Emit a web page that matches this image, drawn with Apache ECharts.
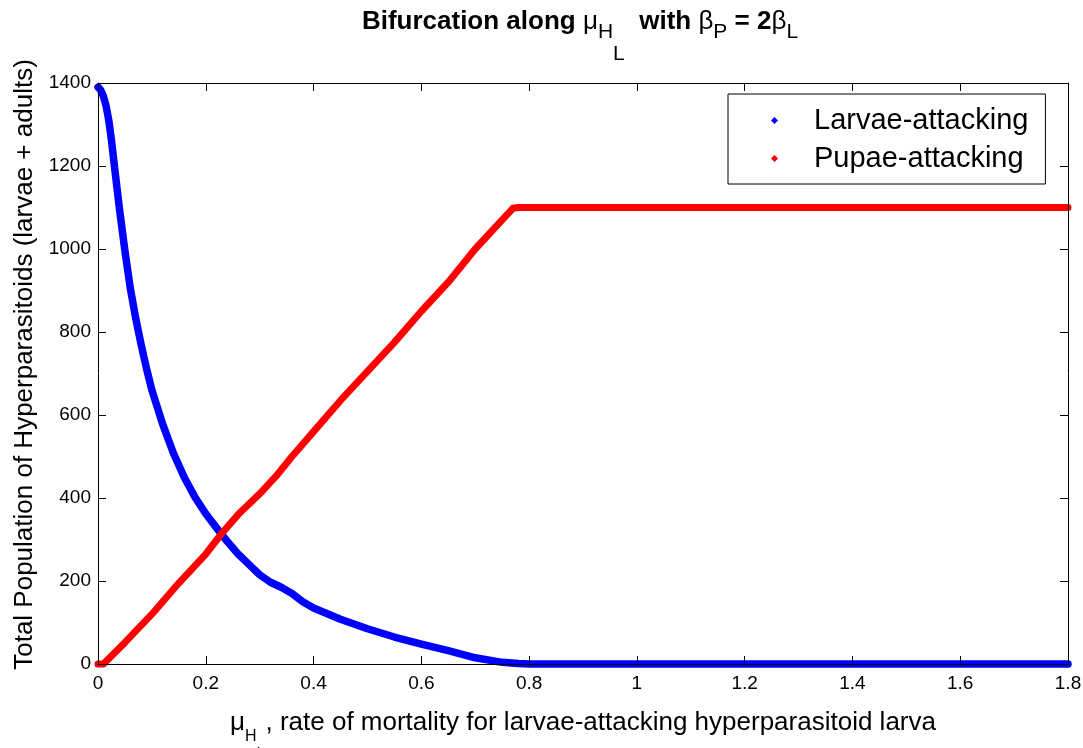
<!DOCTYPE html>
<html>
<head>
<meta charset="utf-8">
<title>Bifurcation along mu_HL</title>
<script src="https://cdn.jsdelivr.net/npm/echarts@6/dist/echarts.min.js"></script>
<style>
  html, body { margin: 0; padding: 0; background: #fff; }
  #chart { width: 1083px; height: 748px; }
</style>
</head>
<body>
<div id="chart"></div>
<script>
// mortality rate (x) and population (y)
var larvaeX = [0, 0.005, 0.01, 0.015, 0.02, 0.025, 0.03, 0.04, 0.05, 0.06, 0.07, 0.08, 0.09, 0.1, 0.12, 0.14, 0.16, 0.18, 0.2, 0.22, 0.24, 0.26, 0.28, 0.3, 0.32, 0.34, 0.36, 0.38, 0.4, 0.45, 0.5, 0.55, 0.6, 0.65, 0.7, 0.75, 0.78, 0.8, 0.95, 1.8];
var larvaeY = [1390, 1383, 1368, 1345, 1310, 1262, 1205, 1095, 995, 905, 833, 770, 712, 660, 578, 508, 450, 402, 362, 328, 295, 265, 240, 215, 197, 185, 170, 150, 135, 108, 85, 65, 48, 32, 15, 4, 1, 0, 0, 0];

var pupaeX = [0, 0.01, 0.05, 0.1, 0.15, 0.2, 0.23, 0.26, 0.3, 0.33, 0.36, 0.4, 0.45, 0.5, 0.55, 0.6, 0.65, 0.7, 0.75, 0.77, 0.78, 1.8];
var pupaeY = [0, 0, 52, 120, 195, 265, 315, 360, 410, 452, 500, 560, 635, 705, 775, 850, 920, 1000, 1070, 1098, 1100, 1100];

var seriesNames = ['Larvae-attacking', 'Pupae-attacking'];
var seriesColors = ['#0000ff', '#ff0000'];

var xTicks = { min: 0, max: 1.8, interval: 0.2 };
var yTicks = { min: 0, max: 1400, interval: 200 };

var FONT = "'Liberation Sans', Arial, sans-serif";

function pairs(xs, ys) {
  var out = [];
  for (var i = 0; i < xs.length; i++) out.push([xs[i], ys[i]]);
  return out;
}

var chart = echarts.init(document.getElementById('chart'), null, { renderer: 'canvas' });

var frameAxis = {
  axisLine: { show: true, onZero: false, lineStyle: { color: '#000', width: 1 } },
  axisTick: { show: true, inside: true, length: 8, lineStyle: { color: '#000' } },
  splitLine: { show: false },
  z: 5
};

var option = {
  backgroundColor: '#fff',
  animation: false,
  title: {
    text: '{b|Bifurcation along }{n|μ}{s1|H}{s2|L}{b|  with }{n|β}{s1|P}{b| = 2}{n|β}{s1|L}',
    left: 580,
    top: 9,
    padding: 0,
    textAlign: 'center',
    textStyle: {
      rich: {
        b: { fontFamily: FONT, fontSize: 26, fontWeight: 'bold', color: '#000', verticalAlign: 'top' },
        n: { fontFamily: FONT, fontSize: 26, fontWeight: 'normal', color: '#000', verticalAlign: 'top' },
        s1: { fontFamily: FONT, fontSize: 21, fontWeight: 'normal', color: '#000', verticalAlign: 'top', padding: [13, 0, 0, 0] },
        s2: { fontFamily: FONT, fontSize: 21, fontWeight: 'normal', color: '#000', verticalAlign: 'top', padding: [35, 0, 0, 0] }
      }
    }
  },
  legend: {
    orient: 'vertical',
    left: 728,
    top: 94,
    padding: [12, 17, 11, 43],
    itemGap: 9,
    itemWidth: 7,
    itemHeight: 7,
    icon: 'diamond',
    borderColor: '#000',
    borderWidth: 1,
    backgroundColor: '#fff',
    formatter: function (name) { return '{t|' + name + '}'; },
    textStyle: {
      rich: {
        t: { fontFamily: FONT, fontSize: 29, color: '#000', padding: [0, 0, 0, 31] }
      }
    },
    data: seriesNames
  },
  grid: {
    left: 98,
    right: 15,
    top: 83,
    bottom: 84,
    containLabel: false,
    outerBoundsMode: 'none'
  },
  xAxis: [
    Object.assign({}, frameAxis, {
      type: 'value',
      position: 'bottom',
      min: xTicks.min, max: xTicks.max, interval: xTicks.interval,
      axisLabel: { fontFamily: FONT, fontSize: 19, color: '#000', margin: 10 },
      name: '{n|μ}{s1|H}{s2|L}{n|, rate of mortality for larvae-attacking hyperparasitoid larva}',
      nameLocation: 'middle',
      nameGap: 46,
      nameTextStyle: {
        rich: {
          n: { fontFamily: FONT, fontSize: 26, color: '#000', verticalAlign: 'top' },
          s1: { fontFamily: FONT, fontSize: 16, color: '#000', verticalAlign: 'top', padding: [19, 0, 0, 0] },
          s2: { fontFamily: FONT, fontSize: 16, color: '#000', verticalAlign: 'top', padding: [37, 0, 0, 0] }
        }
      }
    }),
    Object.assign({}, frameAxis, {
      type: 'value',
      position: 'top',
      min: xTicks.min, max: xTicks.max, interval: xTicks.interval,
      axisLabel: { show: false }
    })
  ],
  yAxis: [
    Object.assign({}, frameAxis, {
      type: 'value',
      position: 'left',
      min: yTicks.min, max: yTicks.max, interval: yTicks.interval,
      axisLabel: {
        fontFamily: FONT, fontSize: 19, color: '#000', margin: 7,
        formatter: function (v) { return String(v); }
      },
      name: 'Total Population of Hyperparasitoids (larvae + adults)',
      nameLocation: 'middle',
      nameGap: 60,
      nameTextStyle: { fontFamily: FONT, fontSize: 26, color: '#000', padding: [0, 0, 0, 18] }
    }),
    Object.assign({}, frameAxis, {
      type: 'value',
      position: 'right',
      min: yTicks.min, max: yTicks.max, interval: yTicks.interval,
      axisLabel: { show: false }
    })
  ],
  series: [
    {
      name: seriesNames[0],
      type: 'line',
      xAxisIndex: 0,
      yAxisIndex: 0,
      data: pairs(larvaeX, larvaeY),
      showSymbol: false,
      clip: false,
      color: seriesColors[0],
      lineStyle: { color: seriesColors[0], width: 7.5, cap: 'round', join: 'round' },
      z: 2
    },
    {
      name: seriesNames[1],
      type: 'line',
      xAxisIndex: 0,
      yAxisIndex: 0,
      data: pairs(pupaeX, pupaeY),
      showSymbol: false,
      clip: false,
      color: seriesColors[1],
      lineStyle: { color: seriesColors[1], width: 7, cap: 'round', join: 'round' },
      z: 3
    }
  ]
};

chart.setOption(option);
</script>
</body>
</html>
